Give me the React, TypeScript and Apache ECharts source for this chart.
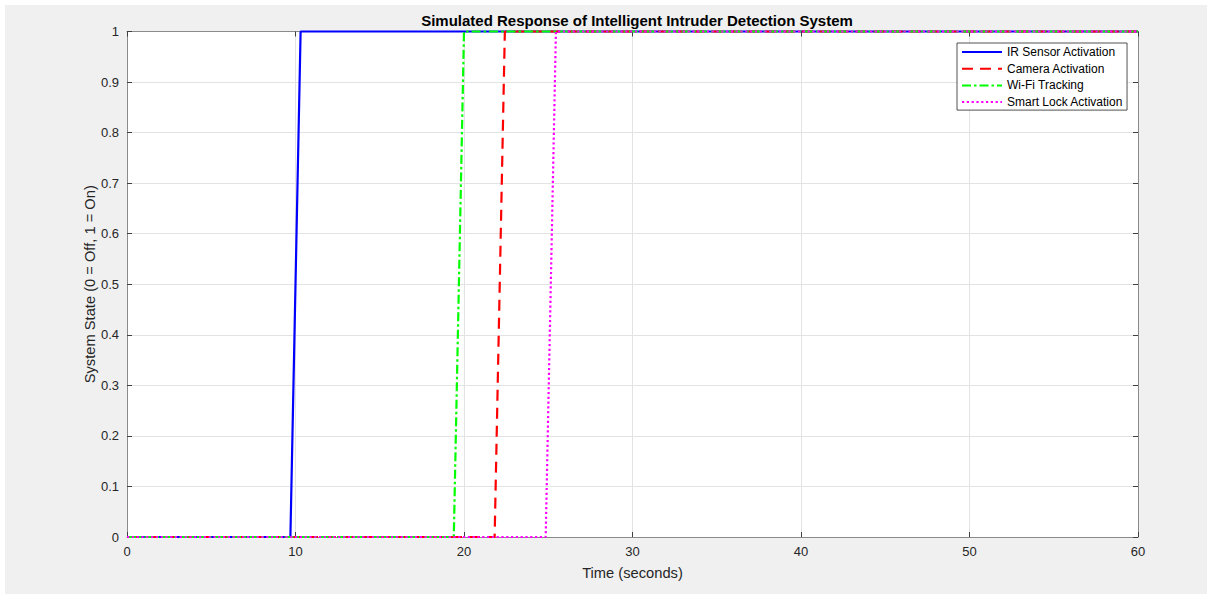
import React, { useEffect, useRef } from "react";
import * as echarts from "echarts";

// Sampled step responses (time in seconds, state 0 = off, 1 = on)
const irSensorTime = [0, 9.697, 10.303, 60];
const irSensorState = [0, 0, 1, 1];
const cameraTime = [0, 21.818, 22.424, 60];
const cameraState = [0, 0, 1, 1];
const wifiTime = [0, 19.394, 20.0, 60];
const wifiState = [0, 0, 1, 1];
const lockTime = [0, 24.848, 25.455, 60];
const lockState = [0, 0, 1, 1];

const seriesNames = [
  "IR Sensor Activation",
  "Camera Activation",
  "Wi-Fi Tracking",
  "Smart Lock Activation",
];

const FONT = "'Liberation Sans', Arial, Helvetica, sans-serif";
const AXIS_COLOR = "#262626";
const BOX_COLOR = "#8a8a8a";
const GRID_COLOR = "#e3e3e3";

const pairs = (t: number[], s: number[]) => t.map((v, i) => [v, s[i]]);

export default function App() {
  const ref = useRef<HTMLDivElement>(null);

  useEffect(() => {
    if (!ref.current) return;
    const chart = echarts.init(ref.current, undefined, { renderer: "svg" });

    const tickLabel = {
      color: AXIS_COLOR,
      fontFamily: FONT,
      fontSize: 13,
    };

    const baseAxis = {
      axisLine: { show: true, onZero: false, lineStyle: { color: BOX_COLOR, width: 1 } },
      axisTick: { show: true, inside: true, length: 5, lineStyle: { color: "#404040", width: 1 } },
    };

    const line = (
      name: string,
      t: number[],
      s: number[],
      color: string,
      type: any
    ) => ({
      name,
      type: "line",
      data: pairs(t, s),
      symbol: "none",
      clip: false,
      lineStyle: { color, width: 2.2, type },
      itemStyle: { color },
    });

    chart.setOption({
      animation: false,
      backgroundColor: "#f0f0f0",
      title: {
        text: "Simulated Response of Intelligent Intruder Detection System",
        left: 627,
        textAlign: "center",
        top: 3,
        textStyle: { fontFamily: FONT, fontSize: 15, fontWeight: "bold", color: "#000" },
      },
      legend: {
        orient: "vertical",
        left: 952,
        top: 38,
        padding: [3, 4, 2, 4],
        itemWidth: 40,
        itemHeight: 12,
        itemGap: 4.7,
        backgroundColor: "#ffffff",
        borderColor: "#262626",
        borderWidth: 0.8,
        itemStyle: { opacity: 0 },
        textStyle: { fontFamily: FONT, fontSize: 12, color: "#000" },
        data: seriesNames,
      },
      grid: { left: 122, right: 69, top: 26.5, bottom: 57, backgroundColor: "#fff", show: true, borderWidth: 0 },
      xAxis: [
        {
          ...baseAxis,
          type: "value",
          min: 0,
          max: 60,
          interval: 10,
          position: "bottom",
          name: "Time (seconds)",
          nameLocation: "middle",
          nameGap: 28,
          nameMoveOverlap: false,
          nameTextStyle: { fontFamily: FONT, fontSize: 14.7, color: AXIS_COLOR },
          axisLabel: { ...tickLabel, margin: 8, formatter: (v: number) => String(v) },
          splitLine: { show: true, lineStyle: { color: GRID_COLOR, width: 1 } },
        },
        {
          ...baseAxis,
          type: "value",
          min: 0,
          max: 60,
          interval: 10,
          position: "top",
          axisLabel: { show: false },
          splitLine: { show: false },
        },
      ],
      yAxis: [
        {
          ...baseAxis,
          type: "value",
          min: 0,
          max: 1,
          interval: 0.1,
          position: "left",
          name: "System State (0 = Off, 1 = On)",
          nameLocation: "middle",
          nameGap: 30,
          nameMoveOverlap: false,
          nameTextStyle: { fontFamily: FONT, fontSize: 14.7, color: AXIS_COLOR },
          axisLabel: {
            ...tickLabel,
            margin: 8,
            formatter: (v: number) => String(+v.toFixed(1)),
          },
          splitLine: { show: true, lineStyle: { color: GRID_COLOR, width: 1 } },
        },
        {
          ...baseAxis,
          type: "value",
          min: 0,
          max: 1,
          interval: 0.1,
          position: "right",
          axisLabel: { show: false },
          splitLine: { show: false },
        },
      ],
      series: [
        line(seriesNames[0], irSensorTime, irSensorState, "#0000ff", "solid"),
        line(seriesNames[1], cameraTime, cameraState, "#ff0000", [11, 7]),
        line(seriesNames[2], wifiTime, wifiState, "#00ff00", [9, 3, 2.5, 3]),
        line(seriesNames[3], lockTime, lockState, "#ff00ff", [2.2, 2.6]),
      ],
    });

    const onResize = () => chart.resize();
    window.addEventListener("resize", onResize);
    return () => {
      window.removeEventListener("resize", onResize);
      chart.dispose();
    };
  }, []);

  return (
    <div
      ref={ref}
      style={{ position: "fixed", left: 5, top: 5, right: 0, bottom: 0 }}
    />
  );
}
